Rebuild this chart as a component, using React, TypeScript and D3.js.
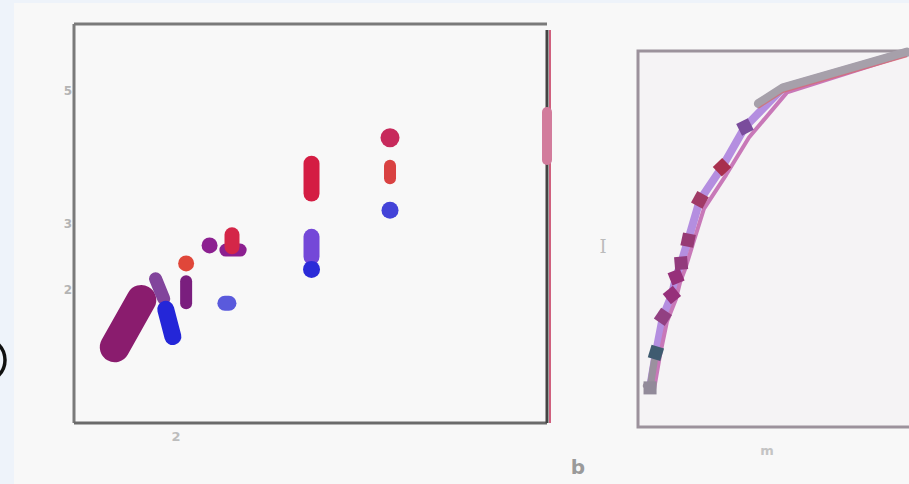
import React from "react";
import * as d3 from "d3";

// ---- Left panel data (scatter marks: segment from (x0,y0) to (x1,y1)) ----
const leftMarkX0 = [1.40, 1.80, 1.97, 2.10, 2.10, 2.33, 2.49, 2.55, 2.48, 3.33, 3.33, 3.33, 4.10, 4.10, 4.10];
const leftMarkY0 = [1.14, 2.17, 1.30, 2.40, 1.80, 2.67, 2.60, 2.83, 1.80, 3.90, 2.80, 2.31, 4.29, 3.68, 3.20];
const leftMarkX1 = [1.66, 1.88, 1.90, 2.10, 2.10, 2.33, 2.63, 2.55, 2.52, 3.33, 3.33, 3.33, 4.10, 4.10, 4.10];
const leftMarkY1 = [1.85, 1.87, 1.71, 2.40, 2.13, 2.67, 2.60, 2.65, 1.80, 3.45, 2.50, 2.31, 4.29, 3.87, 3.20];
const leftMarkColor = ["#8a1c6e", "#82449c", "#2426d8", "#e0473a", "#7a1e7e", "#8c2090", "#8c2090", "#d42648", "#5a5adc", "#d41d43", "#7448d8", "#2b2bd8", "#c72a5c", "#d94242", "#4343d8"];
const leftMarkWidth = [30, 13, 17, 16, 12, 16, 13, 15, 15, 16, 16, 17, 19, 12, 17];
const leftYTicks = [2, 3, 5];
const leftXTicks = [2];

// ---- Right panel data (curves) ----
const curveX = [0.43, 0.64, 0.89, 1.21, 1.36, 1.54, 1.79, 2.21, 3.0, 3.82, 5.18, 9.61];
const curveYLavender = [1.04, 1.97, 2.93, 3.51, 3.99, 4.36, 4.97, 6.04, 6.91, 7.98, 9.02, 9.97];
const curveYPink = [1.0, 1.9, 2.8, 3.4, 3.85, 4.2, 4.8, 5.8, 6.7, 7.7, 8.9, 9.95];
const grayTopX = [4.3, 5.18, 9.61];
const grayTopY = [8.6, 9.02, 9.97];
const grayBottomX = [0.30, 0.43, 0.58];
const grayBottomY = [1.10, 1.04, 1.75];
const markerX = [0.43, 0.64, 0.89, 1.21, 1.36, 1.54, 1.79, 2.21, 3.0, 3.82];
const markerY = [1.04, 1.97, 2.93, 3.51, 3.99, 4.36, 4.97, 6.04, 6.91, 7.98];
const markerColor = ["#928a9a", "#3f5b70", "#924082", "#96307a", "#96307a", "#923a7c", "#963a74", "#a03a66", "#a8304e", "#7a4c9c"];

const W = 909;
const H = 484;

export default function App() {
  const lx = d3.scaleLinear().domain([1, 5.64]).range([74, 547]);
  const ly = d3.scaleLinear().domain([0, 6]).range([423, 24]);
  const rx = d3.scaleLinear().domain([0, 10]).range([638, 918]);
  const ry = d3.scaleLinear().domain([0, 10]).range([427, 51]);

  const lineL = d3.line<number>().x((_, i) => rx(curveX[i])).y((d) => ry(d));
  const grayTop = d3.line<number>().x((_, i) => rx(grayTopX[i])).y((d) => ry(d));
  const grayBottom = d3.line<number>().x((_, i) => rx(grayBottomX[i])).y((d) => ry(d));
  const sym = d3.symbol().type(d3.symbolSquare).size(170);

  return (
    <svg width={W} height={H} style={{ position: "absolute", left: 0, top: 0 }} fontFamily="DejaVu Sans">
      <rect x={0} y={0} width={W} height={H} fill="#f8f8f8" />
      <rect x={0} y={0} width={14} height={H} fill="#eef3fa" />
      <rect x={0} y={0} width={W} height={3} fill="#eef3fa" />

      {/* left panel */}
      <line x1={74} y1={24} x2={547} y2={24} stroke="#7a7a7a" strokeWidth={3} />
      <line x1={74} y1={24} x2={74} y2={423} stroke="#7a7a7a" strokeWidth={3} />
      <line x1={74} y1={423} x2={547} y2={423} stroke="#6a6a6a" strokeWidth={3} />
      <line x1={550} y1={30} x2={550} y2={423} stroke="#d0607e" strokeWidth={2} />
      <line x1={547} y1={30} x2={547} y2={423} stroke="#444" strokeWidth={3} />
      <line x1={547} y1={112} x2={547} y2={160} stroke="#d27c9c" strokeWidth={10} strokeLinecap="round" />
      {leftYTicks.map((t) => (
        <text key={t} x={72} y={ly(t)} dy="0.35em" textAnchor="end" fontSize={12} fontWeight="bold" fill="#b4b4b4">{t}</text>
      ))}
      {leftXTicks.map((t) => (
        <text key={t} x={lx(t)} y={441} textAnchor="middle" fontSize={13} fontWeight="bold" fill="#bdbdbd">{t}</text>
      ))}
      {leftMarkX0.map((x0, i) => (
        <line key={i} x1={lx(x0)} y1={ly(leftMarkY0[i])} x2={lx(leftMarkX1[i])} y2={ly(leftMarkY1[i])}
          stroke={leftMarkColor[i]} strokeWidth={leftMarkWidth[i]} strokeLinecap="round" strokeLinejoin="round" />
      ))}

      {/* black partial label at left edge */}
      <circle cx={-17} cy={360} r={22} fill="none" stroke="#111" strokeWidth={3.5} />

      {/* right panel */}
      <rect x={638} y={51} width={290} height={376} fill="#f5f3f5" stroke="#9c929c" strokeWidth={3} />
      <path d={lineL(curveYLavender) || ""} fill="none" stroke="#b48ee0" strokeWidth={8} strokeLinejoin="round" />
      <path d={lineL(curveYPink) || ""} fill="none" stroke="#c878b8" strokeWidth={4} strokeLinejoin="round" transform="translate(4,0)" />
      <path d={grayTop(grayTopY) || ""} fill="none" stroke="#a6a0aa" strokeWidth={9} strokeLinejoin="round" strokeLinecap="round" />
      <path d={grayTop(grayTopY.map((v) => v - 0.12)) || ""} fill="none" stroke="#e06070" strokeWidth={1.2} opacity={0.7} />
      <path d={grayBottom(grayBottomY) || ""} fill="none" stroke="#9a909e" strokeWidth={7} strokeLinejoin="round" strokeLinecap="round" />
      {markerX.map((x, i) => (
        <path key={i} d={sym() || ""} transform={`translate(${rx(x)},${ry(markerY[i])}) rotate(${i * 17})`} fill={markerColor[i]} />
      ))}

      <text x={603} y={247} dy="0.35em" textAnchor="middle" fontSize={18} fontFamily="DejaVu Serif" fill="#bcbcbc">I</text>
      <text x={767} y={450} dy="0.35em" textAnchor="middle" fontSize={13} fontWeight="bold" fill="#c4c4c4">m</text>
      <text x={578} y={467} dy="0.35em" textAnchor="middle" fontSize={20} fontWeight="bold" fill="#9a9a9a">b</text>
    </svg>
  );
}
